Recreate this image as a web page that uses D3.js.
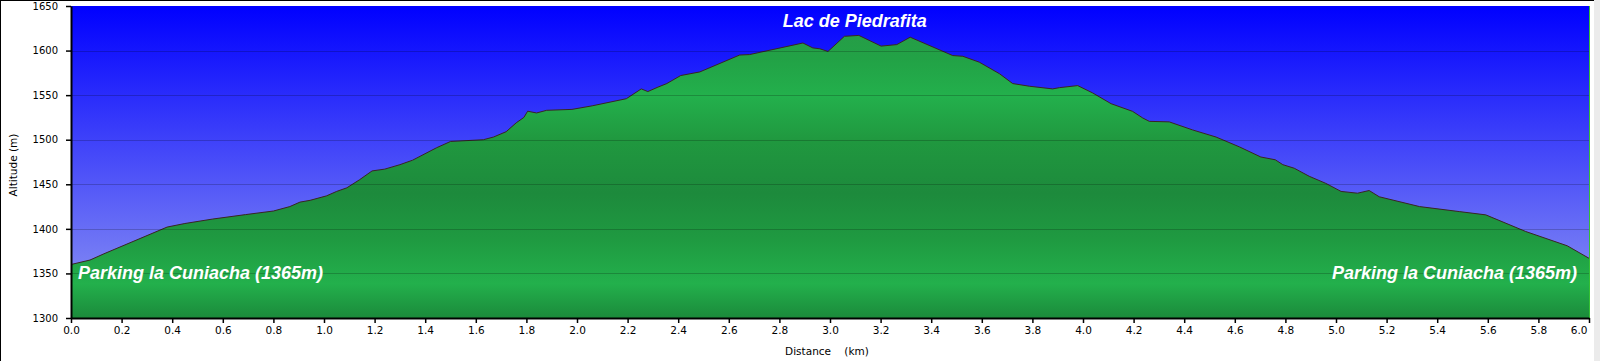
<!DOCTYPE html>
<html><head><meta charset="utf-8">
<script src="https://cdn.jsdelivr.net/npm/d3@7"></script>
<style>body{margin:0;background:#fff;overflow:hidden}svg{display:block}</style>
</head><body>
<svg id="chart" width="1600" height="361"></svg>
<script>
// ---- data (distance km, altitude m) ----
const distances = [0.00,0.075,0.13,0.38,0.45,0.56,0.69,0.80,0.865,0.905,0.945,1.01,1.05,1.09,1.14,1.19,1.24,1.30,1.35,1.445,1.50,1.63,1.67,1.72,1.76,1.79,1.805,1.84,1.88,1.98,2.06,2.195,2.254,2.28,2.32,2.355,2.41,2.485,2.643,2.682,2.893,2.932,2.96,2.992,3.057,3.114,3.202,3.264,3.317,3.485,3.525,3.59,3.67,3.722,3.788,3.88,3.907,3.979,4.038,4.111,4.196,4.236,4.262,4.341,4.433,4.526,4.618,4.703,4.76,4.79,4.835,4.894,4.96,5.02,5.085,5.131,5.171,5.33,5.487,5.592,5.75,5.914,6.00];
const altitudes = [1360,1365,1372,1402,1406,1411,1416,1420,1425,1430,1432,1437,1442,1446,1455,1465,1467,1472,1477,1491,1498,1500,1503,1509,1519,1525,1532,1530,1533,1534,1538,1546,1557,1554,1559,1563,1572,1576,1595,1595.5,1608.5,1603,1602,1599,1616,1617,1605,1606.7,1615,1594.4,1593.6,1587,1574,1563,1560,1557,1558.4,1560.7,1552.5,1540.4,1531.8,1524.4,1520.6,1520,1511,1503,1492,1480.6,1477.5,1472,1468,1459,1451,1442,1440,1443,1436,1425,1419.4,1415.7,1397,1381,1367];
const xTickValues = [0,0.2,0.4,0.6,0.8,1.0,1.2,1.4,1.6,1.8,2.0,2.2,2.4,2.6,2.8,3.0,3.2,3.4,3.6,3.8,4.0,4.2,4.4,4.6,4.8,5.0,5.2,5.4,5.6,5.8,6.0];
const xTickLabels = ["0.0","0.2","0.4","0.6","0.8","1.0","1.2","1.4","1.6","1.8","2.0","2.2","2.4","2.6","2.8","3.0","3.2","3.4","3.6","3.8","4.0","4.2","4.4","4.6","4.8","5.0","5.2","5.4","5.6","5.8","6.0"];
const yTickValues = [1300,1350,1400,1450,1500,1550,1600,1650];
const yTickLabels = ["1300","1350","1400","1450","1500","1550","1600","1650"];
const annotations = [
  {text:"Lac de Piedrafita", km:3.09, anchor:"middle", pos:"top"},
  {text:"Parking la Cuniacha (1365m)", km:0.0, anchor:"start", pos:"bottom"},
  {text:"Parking la Cuniacha (1365m)", km:6.0, anchor:"end", pos:"bottom"}
];
const xTitle = "Distance\u00a0\u00a0\u00a0\u00a0(km)";
const yTitle = "Altitude (m)";

const data = distances.map((d,i)=>({km:d, alt:altitudes[i]}));

const svg = d3.select("#chart");
const L=71, R=1589, T=6, B=318;
const x = d3.scaleLinear().domain([0,6]).range([L,R]);
const y = d3.scaleLinear().domain([1300,1650]).range([B,T]);

const defs = svg.append("defs");
const sky = defs.append("linearGradient").attr("id","sky").attr("gradientUnits","userSpaceOnUse")
  .attr("x1",0).attr("x2",0).attr("y1",T).attr("y2",B);
sky.append("stop").attr("offset",0).attr("stop-color","#0000ff");
sky.append("stop").attr("offset",1).attr("stop-color","#9199f2");

const grass = defs.append("linearGradient").attr("id","grass").attr("gradientUnits","userSpaceOnUse")
  .attr("x1",0).attr("x2",0).attr("y1",T).attr("y2",B);
[[0,"#2a9848"],[0.17,"#22a246"],[0.29,"#23b04c"],[0.43,"#20983f"],[0.6,"#1d8a3c"],[0.75,"#1f9a41"],[0.89,"#23b04c"],[1,"#1b8a3b"]]
  .forEach(s=>grass.append("stop").attr("offset",s[0]).attr("stop-color",s[1]));

// plot background
svg.append("rect").attr("x",L).attr("y",T).attr("width",R-L).attr("height",B-T).attr("fill","url(#sky)");

// area
const area = d3.area().x(d=>x(d.km)).y0(B).y1(d=>y(d.alt));
svg.append("path").datum(data).attr("d",area).attr("fill","url(#grass)");
const line = d3.line().x(d=>x(d.km)).y(d=>y(d.alt));
svg.append("path").datum(data).attr("d",line).attr("fill","none").attr("stroke","#3a2424").attr("stroke-width",1);

// grid lines
svg.append("g").selectAll("line").data(yTickValues.slice(1,-1)).join("line")
  .attr("x1",L).attr("x2",R).attr("y1",d=>Math.round(y(d))+0.5).attr("y2",d=>Math.round(y(d))+0.5)
  .attr("stroke","#000").attr("stroke-opacity",0.2).attr("stroke-width",1);

// right edge green line
svg.append("line").attr("x1",R+0.5).attr("x2",R+0.5).attr("y1",T).attr("y2",B).attr("stroke","#33c033").attr("stroke-width",1);

// axes
const yAxis = d3.axisLeft(y).tickValues(yTickValues).tickFormat((d,i)=>yTickLabels[i]).tickSize(5).tickSizeOuter(0).tickPadding(8);
const gy = svg.append("g").attr("transform",`translate(${L},0)`).call(yAxis);
gy.selectAll("text").attr("font-family","'DejaVu Sans', Verdana, sans-serif").attr("font-size","10px").attr("fill","#000");
gy.select(".domain").attr("stroke-width",2);
gy.selectAll(".tick line").attr("stroke-width",1.5);

const xAxis = d3.axisBottom(x).tickValues(xTickValues).tickFormat((d,i)=>xTickLabels[i]).tickSize(5).tickSizeOuter(0).tickPadding(4);
const gx = svg.append("g").attr("transform",`translate(0,${B})`).call(xAxis);
gx.selectAll("text").attr("font-family","'DejaVu Sans', Verdana, sans-serif").attr("font-size","10.5px").attr("fill","#000");
gx.selectAll(".tick").filter((d,i)=>i===xTickValues.length-1).select("text").attr("text-anchor","end").attr("x",-2);
gx.select(".domain").attr("stroke-width",2);
gx.selectAll(".tick line").attr("stroke-width",1.5);

// axis titles
svg.append("text").attr("x",827).attr("y",355).attr("text-anchor","middle")
  .attr("font-family","'DejaVu Sans', Verdana, sans-serif").attr("font-size","10.5px").text(xTitle);
svg.append("text").attr("transform","translate(17,165) rotate(-90)").attr("text-anchor","middle")
  .attr("font-family","'DejaVu Sans', Verdana, sans-serif").attr("font-size","10.5px").text(yTitle);

// annotations
svg.append("g").selectAll("text").data(annotations).join("text")
  .attr("x",d=> d.anchor==="start" ? x(d.km)+7 : d.anchor==="end" ? x(d.km)-12 : x(d.km)+2)
  .attr("y",d=> d.pos==="top" ? 26.5 : 279)
  .attr("text-anchor",d=>d.anchor)
  .attr("font-family","'Liberation Sans', Arial, sans-serif").attr("font-size","18px")
  .attr("font-weight","bold").attr("font-style","italic").attr("fill","#fff")
  .text(d=>d.text);

// frame
svg.append("line").attr("x1",0.5).attr("x2",0.5).attr("y1",0).attr("y2",361).attr("stroke","#000");
svg.append("line").attr("x1",0).attr("x2",1594).attr("y1",0.5).attr("y2",0.5).attr("stroke","#000");
svg.append("rect").attr("x",1594).attr("y",0).attr("width",6).attr("height",361).attr("fill","#ebebeb");
</script>
</body></html>
